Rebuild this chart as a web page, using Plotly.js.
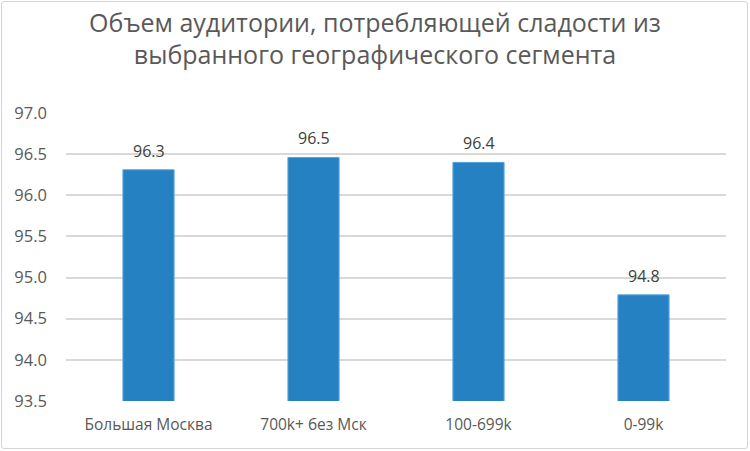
<!DOCTYPE html>
<html><head><meta charset="utf-8">
<script src="https://cdn.plot.ly/plotly-3.0.1.min.js"></script>
<style>
html,body{margin:0;padding:0;background:#fff;}
#wrap{position:relative;width:750px;height:451px;}
#chart{width:750px;height:451px;}
#frame{position:absolute;left:1px;top:1px;width:747px;height:448px;box-sizing:border-box;border:1.5px solid #d4d4d4;border-radius:3px;pointer-events:none;}
</style></head>
<body>
<div id="wrap"><div id="chart"></div><div id="frame"></div></div>
<script>
var categories = ["Большая Москва", "700k+ без Мск", "100-699k", "0-99k"];
var values = [96.31, 96.46, 96.40, 94.79];
var yTicks = [93.5, 94.0, 94.5, 95.0, 95.5, 96.0, 96.5, 97.0];
var yTickLabels = ["93.5", "94.0", "94.5", "95.0", "95.5", "96.0", "96.5", "97.0"];
var titleText = "Объем аудитории, потребляющей сладости из<br>выбранного географического сегмента";

var font = "Open Sans, Noto Sans, sans-serif";
var trace = {
  type: "bar",
  x: categories,
  y: values,
  marker: {color: "#2681C3", line: {color: "#5AA5DE", width: 1}},
  hoverinfo: "none"
};

var annotations = categories.map(function(c, i){
  return {x: c, y: values[i], xref: "x", yref: "y", text: values[i].toFixed(1),
    showarrow: false, yshift: 19, yanchor: "middle",
    font: {family: font, size: 16, color: "#404040"}};
});

var layout = {
  width: 750, height: 451,
  margin: {l: 66, r: 24, t: 113, b: 50},
  paper_bgcolor: "#fff", plot_bgcolor: "#fff",
  title: {text: titleText, font: {family: font, size: 25, color: "#595959"}, x: 0.5, xanchor: "center", y: 0.93, yanchor: "middle"},
  bargap: 0.69,
  showlegend: false,
  annotations: annotations,
  xaxis: {
    tickfont: {family: font, size: 15.5, color: "#595959"},
    showline: false, ticks: "", showgrid: false, zeroline: false,
    ticklabelstandoff: 12,
    fixedrange: true
  },
  yaxis: {
    range: [93.5, 97.0],
    tickvals: yTicks,
    ticktext: yTickLabels,
    tickfont: {family: font, size: 16.5, color: "#595959"},
    showgrid: true, gridcolor: "#d9d9d9", gridwidth: 2,
    zeroline: false, showline: false, ticks: "", ticklabelstandoff: 18,
    fixedrange: true
  }
};
Plotly.newPlot("chart", [trace], layout, {displayModeBar: false, staticPlot: true});
</script>
</body></html>
